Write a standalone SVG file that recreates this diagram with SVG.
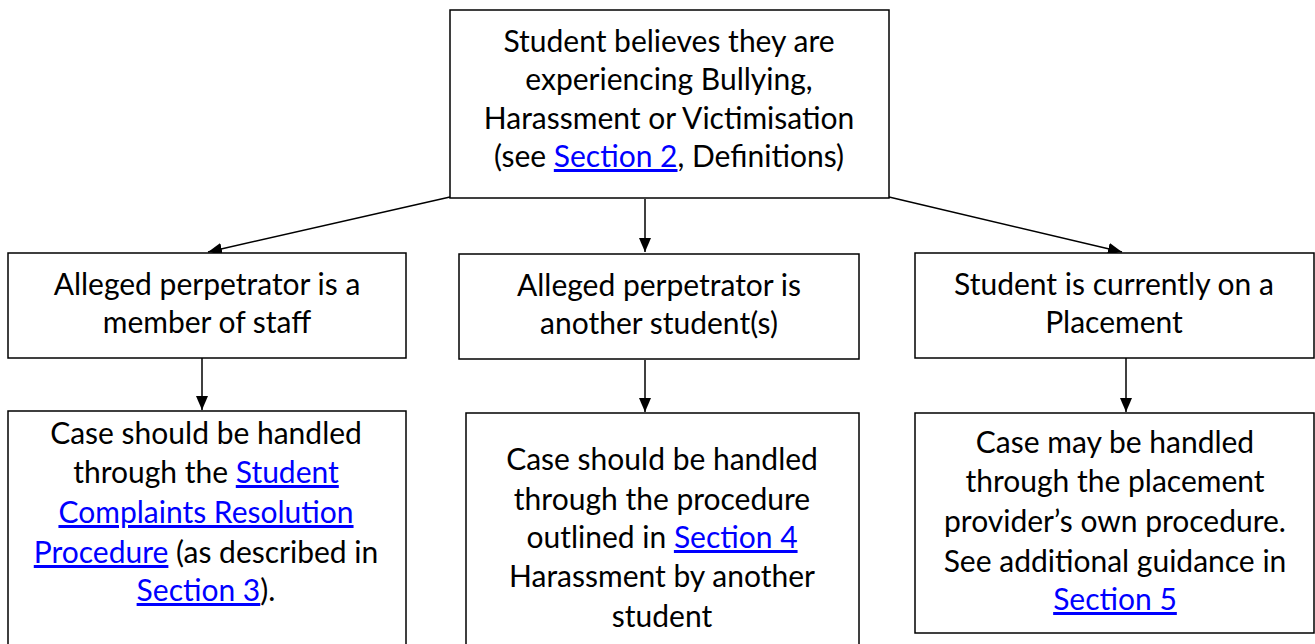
<svg xmlns="http://www.w3.org/2000/svg" width="1315" height="644" viewBox="0 0 1315 644">
<style>
.box{fill:#fff;stroke:#000;stroke-width:1.5}
.t{font-family:Lato,"Liberation Sans",sans-serif;font-size:30px;fill:#000;text-anchor:middle}
.lnk{fill:#0000ff;text-decoration:underline}
.c{stroke:#000;stroke-width:1.5;fill:none;marker-end:url(#ah)}
</style>
<defs>
<marker id="ah" markerWidth="14" markerHeight="12" refX="14" refY="6" orient="auto" markerUnits="userSpaceOnUse">
<path d="M0,0 L14,6 L0,12 Z" fill="#000"/>
</marker>
</defs>
<rect width="1315" height="644" fill="#fff"/>
<g id="connectors">
<line class="c" x1="450" y1="197" x2="208" y2="252"/>
<line class="c" x1="645" y1="199" x2="645" y2="252"/>
<line class="c" x1="889" y1="197" x2="1122" y2="252"/>
<line class="c" x1="202" y1="358" x2="202" y2="410"/>
<line class="c" x1="645" y1="360" x2="645" y2="412"/>
<line class="c" x1="1126" y1="358" x2="1126" y2="412"/>
</g>
<g id="start">
<rect class="box" x="450" y="10" width="439" height="188"/>
<text class="t" x="669" y="52">Student believes they are</text>
<text class="t" x="669" y="90">experiencing Bullying,</text>
<text class="t" x="669" y="129">Harassment or Victimisation</text>
<text class="t" x="669" y="167">(see <tspan class="lnk">Section 2</tspan>, Definitions)</text>
</g>
<g id="staff">
<rect class="box" x="8" y="253" width="398" height="105"/>
<text class="t" x="207" y="295">Alleged perpetrator is a</text>
<text class="t" x="207" y="333">member of staff</text>
</g>
<g id="student">
<rect class="box" x="459" y="254" width="400" height="105"/>
<text class="t" x="659" y="296">Alleged perpetrator is</text>
<text class="t" x="659" y="334">another student(s)</text>
</g>
<g id="placement">
<rect class="box" x="915" y="253" width="399" height="105"/>
<text class="t" x="1114" y="295">Student is currently on a</text>
<text class="t" x="1114" y="333">Placement</text>
</g>
<g id="staff-outcome">
<rect class="box" x="8" y="411" width="398" height="240"/>
<text class="t" x="206" y="444">Case should be handled</text>
<text class="t" x="206" y="483">through the <tspan class="lnk">Student</tspan></text>
<text class="t" x="206" y="523"><tspan class="lnk">Complaints Resolution</tspan></text>
<text class="t" x="206" y="563"><tspan class="lnk">Procedure</tspan> (as described in</text>
<text class="t" x="206" y="601"><tspan class="lnk">Section 3</tspan>).</text>
</g>
<g id="student-outcome">
<rect class="box" x="466" y="413" width="393" height="240"/>
<text class="t" x="662" y="470">Case should be handled</text>
<text class="t" x="662" y="510">through the procedure</text>
<text class="t" x="662" y="548">outlined in <tspan class="lnk">Section 4</tspan></text>
<text class="t" x="662" y="587">Harassment by another</text>
<text class="t" x="662" y="627">student</text>
</g>
<g id="placement-outcome">
<rect class="box" x="915" y="413" width="399" height="220"/>
<text class="t" x="1115" y="453">Case may be handled</text>
<text class="t" x="1115" y="492">through the placement</text>
<text class="t" x="1115" y="532">provider’s own procedure.</text>
<text class="t" x="1115" y="572">See additional guidance in</text>
<text class="t" x="1115" y="610"><tspan class="lnk">Section 5</tspan></text>
</g>
</svg>
